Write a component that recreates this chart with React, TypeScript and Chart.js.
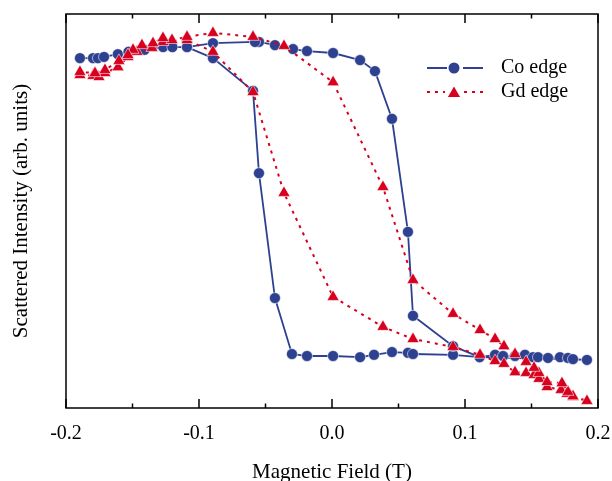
import React, { useEffect, useRef } from "react";
import { Chart, registerables } from "chart.js";

Chart.register(...registerables);

const FONT = '"Liberation Serif", "Times New Roman", serif';
const CO_COLOR = "#2d4190";
const GD_COLOR = "#d8001f";

const seriesLabels = ["Co edge", "Gd edge"];
const xAxisTitle = "Magnetic Field (T)";
const yAxisTitle = "Scattered Intensity (arb. units)";
const xTickValues = [-0.2, -0.1, 0, 0.1, 0.2];
const xMinorTickValues = [-0.15, -0.05, 0.05, 0.15];

// Co edge loop (field up, then field down)
const coField = [
  -0.1895, -0.1797, -0.176, -0.1714, -0.161, -0.153, -0.141, -0.127, -0.12, -0.109,
  -0.0895, -0.0594, -0.0549, -0.0429, -0.0301, -0.0188, 0.0008, 0.0211, 0.0316, 0.0451, 0.0571, 0.0609, 0.091,
  0.111, 0.1226, 0.1286, 0.1376, 0.1451, 0.1511, 0.1549, 0.1624, 0.1714, 0.1774, 0.1812, 0.1917,
  0.111, 0.091, 0.0609, 0.0571, 0.0451, 0.0323, 0.0211, 0.0008, -0.0188, -0.0293, -0.0429, -0.0549, -0.0579, -0.0895, -0.109,
];
const coSignal = [
  88.8, 88.8, 88.8, 89.1, 89.8, 90.4, 90.9, 91.6, 91.6, 91.6,
  88.8, 80.5, 59.6, 27.9, 13.7, 13.2, 13.2, 12.9, 13.5, 14.2, 14.0, 13.7, 13.5,
  12.9, 13.5, 13.2, 13.2, 13.5, 12.9, 12.9, 12.7, 12.9, 12.7, 12.4, 12.2,
  12.9, 15.7, 23.4, 44.7, 73.4, 85.5, 88.3, 90.1, 90.6, 91.1, 92.1, 92.9, 92.9, 92.6, 91.6,
];

// Gd edge loop (field up, then field down)
const gdField = [
  -0.1895, -0.1797, -0.1752, -0.1707, -0.1609, -0.1534, -0.1466, -0.1353, -0.1271, -0.109, -0.0895, -0.0594,
  -0.0361, 0.0008, 0.0383, 0.0609, 0.091, 0.1113, 0.1226, 0.1293, 0.1376, 0.1459, 0.1519, 0.1556, 0.1617,
  0.1722, 0.1767, 0.1812, 0.1917,
  0.1812, 0.1774, 0.1729, 0.1617, 0.1556, 0.1519, 0.1459, 0.1376, 0.1293, 0.1226, 0.1113, 0.091, 0.0609,
  0.0383, 0.0008, -0.0361, -0.0594, -0.0895, -0.109, -0.1203, -0.1271, -0.1346, -0.1429, -0.1496, -0.1534,
  -0.1602, -0.1707, -0.1782, -0.1895,
];
const gdSignal = [
  84.5, 84.3, 84.0, 85.0, 86.5, 89.1, 90.4, 91.4, 92.9, 93.4, 90.4, 80.2,
  54.6, 28.2, 20.6, 17.5, 15.5, 13.5, 11.9, 11.2, 9.1, 8.9, 8.4, 7.4, 5.3,
  4.6, 3.6, 2.8, 1.8,
  3.0, 4.1, 6.3, 6.6, 8.9, 10.2, 11.7, 13.7, 15.7, 17.5, 19.8, 23.9, 32.5,
  56.1, 82.7, 91.9, 94.2, 95.2, 94.2, 93.4, 93.9, 92.6, 92.1, 90.9, 89.6,
  88.1, 85.8, 85.0, 85.3,
];

function toPoints(xs: number[], ys: number[]) {
  return xs.map((x, i) => ({ x, y: ys[i] }));
}

function drawTriangle(ctx: CanvasRenderingContext2D, x: number, y: number, r: number) {
  ctx.beginPath();
  ctx.moveTo(x, y - r);
  ctx.lineTo(x + r * Math.sin((2 * Math.PI) / 3), y - r * Math.cos((2 * Math.PI) / 3));
  ctx.lineTo(x + r * Math.sin((4 * Math.PI) / 3), y - r * Math.cos((4 * Math.PI) / 3));
  ctx.closePath();
  ctx.fill();
}

const frameTicksLegend = {
  id: "frameTicksLegend",
  afterDatasetsDraw(chart: any) {
    const { ctx, chartArea: a } = chart;
    const xs = chart.scales.x;
    ctx.save();
    ctx.strokeStyle = "#000";
    ctx.lineWidth = 1.5;
    ctx.setLineDash([]);
    ctx.strokeRect(a.left, a.top, a.right - a.left, a.bottom - a.top);
    const drawTick = (v: number, len: number) => {
      const px = xs.getPixelForValue(v);
      ctx.beginPath();
      ctx.moveTo(px, a.bottom);
      ctx.lineTo(px, a.bottom - len);
      ctx.moveTo(px, a.top);
      ctx.lineTo(px, a.top + len);
      ctx.stroke();
    };
    xTickValues.forEach((v) => drawTick(v, 9));
    xMinorTickValues.forEach((v) => drawTick(v, 4.5));

    // legend
    const ds = chart.data.datasets;
    const x0 = a.right - 171;
    const xm = a.right - 144;
    const x1 = a.right - 115;
    const tx = a.right - 97;
    const rows = [a.top + 54, a.top + 78];

    // Co row
    ctx.strokeStyle = ds[0].borderColor;
    ctx.lineWidth = ds[0].borderWidth;
    ctx.setLineDash([]);
    ctx.beginPath();
    ctx.moveTo(x0, rows[0]);
    ctx.lineTo(xm - 7, rows[0]);
    ctx.moveTo(xm + 9, rows[0]);
    ctx.lineTo(x1, rows[0]);
    ctx.stroke();
    ctx.fillStyle = ds[0].pointBackgroundColor;
    ctx.beginPath();
    ctx.arc(xm, rows[0], 5.5, 0, Math.PI * 2);
    ctx.fill();

    // Gd row
    ctx.strokeStyle = ds[1].borderColor;
    ctx.lineWidth = ds[1].borderWidth;
    ctx.setLineDash(ds[1].borderDash);
    ctx.beginPath();
    ctx.moveTo(x0, rows[1]);
    ctx.lineTo(xm - 9, rows[1]);
    ctx.moveTo(xm + 10, rows[1]);
    ctx.lineTo(x1, rows[1]);
    ctx.stroke();
    ctx.setLineDash([]);
    ctx.fillStyle = ds[1].pointBackgroundColor;
    drawTriangle(ctx, xm, rows[1] + 1.5, 7);

    ctx.fillStyle = "#000";
    ctx.font = `20px ${FONT}`;
    ctx.textBaseline = "middle";
    ctx.textAlign = "left";
    ctx.fillText(ds[0].label, tx, rows[0]);
    ctx.fillText(ds[1].label, tx, rows[1]);
    ctx.restore();
  },
};

export default function App() {
  const ref = useRef<HTMLCanvasElement | null>(null);
  useEffect(() => {
    if (!ref.current) return;
    const chart = new Chart(ref.current, {
      type: "scatter",
      data: {
        datasets: [
          {
            label: seriesLabels[0],
            data: toPoints(coField, coSignal),
            showLine: true,
            borderColor: CO_COLOR,
            borderWidth: 1.8,
            pointStyle: "circle",
            pointRadius: 5.5,
            pointBackgroundColor: CO_COLOR,
            pointBorderColor: "rgba(255,255,255,0.7)",
            pointBorderWidth: 0.8,
            tension: 0,
            order: 1,
          },
          {
            label: seriesLabels[1],
            data: toPoints(gdField, gdSignal),
            showLine: true,
            borderColor: GD_COLOR,
            borderWidth: 2,
            borderDash: [3, 5],
            pointStyle: "triangle",
            pointRadius: 7,
            pointBackgroundColor: GD_COLOR,
            pointBorderColor: "rgba(255,255,255,0.7)",
            pointBorderWidth: 0.8,
            tension: 0,
            order: 0,
          },
        ],
      } as any,
      options: {
        animation: false,
        responsive: false,
        layout: { padding: { top: 14, right: 14, left: 0, bottom: 0 } },
        plugins: { legend: { display: false }, tooltip: { enabled: false } },
        scales: {
          x: {
            type: "linear",
            min: -0.2,
            max: 0.2,
            afterBuildTicks: (scale: any) => {
              scale.ticks = xTickValues.map((v) => ({ value: v }));
            },
            ticks: {
              callback: (v: any) => Number(v).toFixed(1),
              font: { family: FONT, size: 20 },
              color: "#000",
              padding: 0,
              maxRotation: 0,
              autoSkip: false,
            },
            grid: { display: false, drawTicks: true, tickLength: 14 },
            border: { display: false },
            title: {
              display: true,
              text: xAxisTitle,
              color: "#000",
              font: { family: FONT, size: 21, lineHeight: 0.8 },
              padding: { top: 18.1, bottom: 0.1 },
            },
          },
          y: {
            type: "linear",
            min: 0,
            max: 100,
            ticks: { display: false },
            grid: { display: false, drawTicks: false },
            border: { display: false },
            title: {
              display: true,
              text: yAxisTitle,
              color: "#000",
              font: { family: FONT, size: 21, lineHeight: 1 },
              padding: { top: 11, bottom: 34 },
            },
          },
        },
      },
      plugins: [frameTicksLegend],
    } as any);
    return () => chart.destroy();
  }, []);
  return (
    <canvas
      ref={ref}
      width={612}
      height={481}
      style={{ position: "absolute", left: 0, top: 0, width: 612, height: 481 }}
    />
  );
}
